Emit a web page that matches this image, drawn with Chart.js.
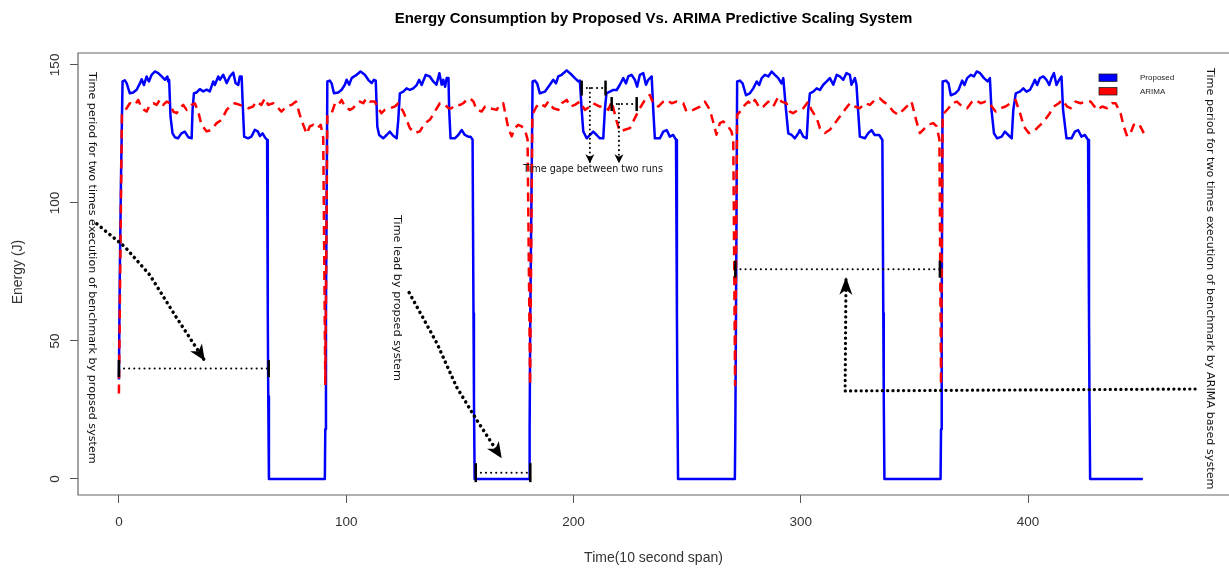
<!DOCTYPE html>
<html>
<head>
<meta charset="utf-8">
<title>Energy Consumption by Proposed Vs. ARIMA Predictive Scaling System</title>
<script src="https://cdn.jsdelivr.net/npm/chart.js@4.4.1/dist/chart.umd.min.js"></script>
<style>
  html, body { margin: 0; padding: 0; background: #fff; }
  #wrap { width: 1229px; height: 568px; }
</style>
</head>
<body>
<div id="wrap"><canvas id="energyChart" width="1229" height="568"></canvas></div>
<script>
// --- Data: time in 10 s steps, energy in J ---

// Proposed system, one row per benchmark cycle
const propTime = [
  0, 0.4, 0.9, 1.6, 2.6, 3.4, 4.8, 6.3, 7.8, 9.3, 10, 11, 12.2, 13.2, 14.4, 15.8, 17.3, 18.8, 20.3, 21.3, 21.7, 22.1, 22.7, 23.6, 24.6, 26, 27.5, 29, 30.5, 32, 32.4, 33, 34.2, 35.6, 37.1, 38.6, 40, 41.5, 42.2, 43.7, 44.4, 45.9, 47.4, 48.8, 50.3, 51.3, 52.5, 53.2, 54, 54.4, 55.1, 56.8, 58.3, 59.8, 61.2, 62, 63.2, 64.2, 65.2, 65.5, 65.7, 66, 90.6, 90.8, 91.1, 91.7,
  92.8, 93.6, 94.6, 96.5, 98, 99.4, 100.2, 101.3, 102.4, 103.4, 104.6, 106.3, 108.2, 109.7, 111.2, 112.2, 113, 113.7, 114.5, 116.3, 117.8, 119.2, 120.7, 122.2, 122.9, 123.6, 125.1, 126.6, 128, 129.5, 131, 132.1, 133.2, 135, 136.8, 138.3, 139.7, 141, 142, 142.7, 143.5, 144.2, 145, 145.3, 145.9, 147.8, 149.3, 150.8, 152.2, 153.7, 154.7, 155.6, 156, 156.2, 156.5, 180.5, 180.7, 181, 182,
  183, 184, 185.2, 187.4, 189.6, 191.1, 192.3, 193.3, 194.8, 197, 199.2, 200.6, 202.1, 202.8, 203.6, 204.3, 205.8, 207.2, 208.7, 210.2, 211.6, 213.1, 213.8, 214.5, 216, 217.5, 219, 220.4, 221.9, 223.1, 224.1, 225.5, 227, 228, 229.2, 230.7, 231.9, 232.9, 234.4, 235.1, 235.8, 238, 239.5, 241, 242.4, 243.9, 245.1, 245.5, 245.7, 246, 271, 271.2, 271.5, 272,
  273.2, 274.4, 275.9, 277.6, 279.1, 280.6, 281.7, 282.8, 284.2, 285.7, 287.2, 288.6, 290.1, 291.5, 292.3, 293.5, 294.5, 296, 297.4, 298.9, 299.6, 301.1, 302.6, 303.3, 304, 305.5, 307, 308.4, 309.9, 311.4, 312.8, 314.3, 315.8, 317.2, 318.7, 320.1, 321.6, 322.3, 323.8, 324.5, 325.2, 326, 328.2, 329.6, 331.1, 332.5, 334.5, 335.9, 336.3, 336.5, 336.8, 361.5, 361.7, 362, 362.4,
  363.9, 365, 366, 368, 369.4, 371, 372, 373.2, 374.8, 376.2, 377.4, 378.9, 380.6, 382.2, 383.2, 383.9, 385, 386.4, 388.4, 389.8, 391.3, 392.8, 393.5, 394.6, 396.4, 397.9, 399.3, 400.8, 402.3, 403, 404, 405.2, 406.7, 408.1, 409.3, 410.3, 411.4, 412.5, 413.7, 414.7, 415.4, 416.9, 419.1, 420.6, 422, 423.5, 425, 426.4, 426.8, 427, 427.3, 450.5
];
const propEnergy = [
  36, 75, 108, 144, 144.4, 143.4, 139.7, 140, 141, 143.4, 144.8, 142.7, 145.8, 144, 146.4, 147.6, 147, 145.8, 144.6, 145.8, 144, 144.6, 131.3, 125.2, 123.8, 123.4, 125.2, 125.8, 123.8, 123.4, 133.7, 139.7, 140, 141.2, 140.4, 141, 140.4, 144, 142.7, 145.8, 144.6, 146.4, 143.4, 145.8, 147.2, 143.4, 142.7, 145.8, 145.8, 137.3, 124, 123.4, 124, 126.5, 125.8, 124.2, 125.2, 123.8, 122.8, 60, 30, 0, 0, 18, 60, 144,
  144.3, 143.3, 139.7, 140, 141, 142.8, 144.6, 142.8, 145.2, 145.8, 146.4, 147.6, 146.4, 144.6, 143.4, 144.6, 144.3, 127.6, 124.6, 123.4, 124.6, 125.8, 124.3, 123.4, 130, 139.7, 140.3, 141.5, 140.9, 141.5, 142.7, 144.6, 142.7, 146.4, 145.8, 144, 142.8, 147, 142.8, 144.6, 142.1, 145.2, 145.2, 133.7, 123.4, 123.4, 124.6, 126.4, 124.6, 124, 124, 122.9, 60, 30, 0, 0, 18, 60, 144,
  144.3, 143.3, 139.7, 140.3, 142.8, 144.6, 143.3, 145.8, 146.4, 148, 146.4, 145.2, 144, 144.3, 133.7, 125.9, 123.4, 124.6, 125.8, 124.6, 123.4, 123.4, 133.7, 139.7, 140.3, 140.9, 140.9, 142.8, 145.2, 143.3, 145.8, 146.4, 144.6, 142.1, 146.4, 147, 142.8, 144.6, 145.8, 133.7, 123.4, 123.4, 125.8, 126.4, 124, 124.6, 122.8, 60, 30, 0, 0, 18, 60, 144,
  144.3, 143.3, 139, 139.7, 141.5, 144, 142.7, 145.2, 146.4, 145.8, 147.6, 146.4, 145.2, 143.3, 145.2, 133.7, 125.2, 124.6, 123.4, 125.2, 126.4, 124, 123.4, 133.7, 139.7, 140.3, 141.5, 140.9, 142.8, 144, 145.2, 142.8, 146.4, 145.8, 144.6, 147, 146.4, 142.8, 145.2, 142.8, 133.7, 124, 123.4, 125.2, 126.4, 124.6, 124.6, 122.8, 60, 30, 0, 0, 18, 60, 144,
  144.3, 143.3, 139, 139.7, 140.9, 144.3, 142.7, 145.2, 146.4, 145.8, 147.6, 147, 145.2, 144, 145.2, 133.7, 125.2, 123.4, 124, 125.8, 124.6, 123.4, 133.7, 139.7, 140.3, 141.5, 140.3, 140.9, 143.3, 144.6, 142.7, 145.2, 145.8, 144.6, 142.7, 145.2, 147, 142.7, 144.6, 145.8, 133.7, 123.4, 123.4, 125.8, 126.4, 124, 124.6, 122.8, 60, 30, 0, 0
];

// ARIMA based system
const arimaTime = [
  0, 1.3, 3.4, 4.8, 7, 8.5, 10, 12.2, 13.6, 15.1, 16.6, 18, 19.5, 21, 22.4, 23.9, 25.4, 26.8, 28.3, 29.8, 32, 33.4, 34.9, 36.3, 38.6, 40.8, 43, 45.2, 47.4, 49.6, 51, 53.2, 55.4, 56.9, 59, 60.5, 62.7, 64.2, 65.7, 67.9, 70.1, 71.5, 73.7, 75.9, 77.9, 79.6, 81.1, 82.6, 84, 85.5, 87.4, 88.8, 89.9, 90.8, 91.7,
  93.6, 95.1, 96.5, 98, 99.4, 101.6, 103, 104.6, 106, 107.5, 108.9, 110.4, 112.6, 114, 115.5, 117, 119.2, 121.4, 122.9, 125.1, 126.6, 128, 130.2, 132.4, 134.6, 136.8, 139, 141.2, 143.5, 145, 146.4, 147.9, 150.1, 151.5, 153, 154.5, 156, 157.4, 159.6, 161.1, 163.3, 166.2, 167.6, 169.1, 171.3, 172.8, 174.2, 175.7, 177.2, 178.6, 179.8, 180.9, 181.9,
  183.7, 185.2, 187.4, 188.9, 191.1, 193.3, 194.8, 197, 198.5, 200.6, 202.8, 205, 207.2, 208.7, 211.6, 213.8, 215.3, 216.8, 219, 220.4, 222.6, 224.8, 227, 229.2, 231.4, 233.6, 235.1, 237.3, 239.5, 241, 243.2, 245.3, 248.3, 249.7, 252.7, 255.6, 257.8, 260, 261.4, 262.9, 264.4, 265.9, 268, 269.5, 270.3, 271.1, 272,
  274, 275.4, 276.9, 278.4, 279.8, 282, 283.5, 285.7, 287.9, 290.1, 291.5, 293.7, 295.2, 296.6, 298.9, 301.1, 303.3, 304.7, 307, 308.4, 310.6, 312.8, 315, 317.2, 319.4, 321.6, 323.8, 326, 328.2, 330.4, 332.6, 334.8, 336.3, 338.5, 340.7, 342.9, 345.1, 347.3, 348.7, 350.9, 352.4, 354.6, 356.1, 358.3, 359.8, 361, 361.7, 362.4,
  365, 366.5, 368.7, 371, 373.2, 375.4, 376.9, 379.1, 381.3, 383.5, 385.7, 387.9, 390.1, 392.3, 394.5, 396.7, 398.1, 400.3, 402.5, 404.7, 406.9, 409.1, 411.3, 413.5, 415, 417.2, 418.7, 420.9, 423.1, 425.3, 427.5, 430.4, 432.6, 434.8, 437, 438.5, 440.7, 442.1, 443.6, 445.1, 446.5, 448, 449.4, 450.9
];
const arimaEnergy = [
  31, 131.9, 134.3, 136.1, 135.5, 137.3, 134.3, 133.1, 135.5, 136.1, 135.5, 137.3, 135.5, 136.7, 136.1, 133.1, 132.5, 134.3, 135.5, 133.7, 135.5, 136.1, 133.1, 128.3, 125.9, 126.5, 128.9, 130.1, 133.7, 135.5, 136.1, 135.5, 134.9, 134.3, 134.9, 136.7, 135.5, 137.9, 135.5, 136.1, 134.3, 133.1, 134.9, 135.5, 136.7, 131.9, 128.3, 125, 127.7, 128.3, 127.1, 128.3, 123.5, 34, 131.9,
  132.5, 136.1, 135.5, 137.3, 134.9, 133.7, 134.3, 136.1, 136.7, 136.1, 137.9, 136.7, 136.7, 134.3, 132.5, 133.7, 134.3, 134.9, 136.1, 133.1, 130.1, 127.1, 125.3, 125.9, 128.9, 130.1, 133.1, 136.1, 135.5, 134.3, 134.3, 135.5, 135.5, 136.1, 137.3, 137.9, 136.7, 133.7, 133.1, 134.9, 134.3, 133.7, 135.5, 136.1, 127.1, 124.1, 127.1, 128.3, 127.7, 126.5, 123, 34, 131.9,
  134.9, 136.1, 134.9, 136.7, 134.3, 133.7, 136.1, 137.3, 134.9, 135.5, 136.7, 133.7, 134.9, 136.1, 134.9, 134.9, 133.7, 136.7, 129.5, 125.9, 126.5, 127.1, 130.7, 134.3, 137.3, 139.1, 136.1, 134.9, 136.7, 137.3, 136.1, 136.7, 136.1, 133.1, 133.7, 134.9, 136.7, 133.7, 129.5, 124.7, 128.9, 129.5, 127.7, 125.9, 122.9, 34, 131.9,
  133.7, 135.5, 136.7, 135.5, 137.3, 134.3, 134.9, 136.7, 134.9, 138.5, 136.7, 136.1, 133.1, 132.5, 133.7, 134.3, 136.7, 133.7, 130.7, 127.1, 125.3, 126.5, 128.9, 131.3, 133.7, 136.1, 134.9, 134.3, 136.1, 135.5, 137.3, 137.9, 136.7, 135.5, 133.1, 131.9, 133.7, 135.5, 136.7, 129.5, 125.3, 127.1, 128.3, 128.9, 127.7, 122.9, 34, 131.9,
  134.3, 136.1, 136.7, 134.9, 134.3, 136.7, 137.3, 136.1, 136.7, 135.5, 133.1, 134.3, 134.9, 136.1, 137.3, 131.9, 127.7, 125.3, 125.9, 127.7, 129.5, 131.9, 134.9, 136.1, 137.3, 134.9, 134.3, 136.7, 136.1, 136.7, 136.7, 133.7, 134.9, 134.3, 136.1, 136.1, 132.5, 127.7, 124.1, 125.3, 128.3, 128.9, 127.7, 125.3
];

const seriesNames = ['Proposed', 'ARIMA'];
const xTicks = [0, 100, 200, 300, 400];
const yTicks = [0, 50, 100, 150];

// --- Annotation guides, in data units [time, energy] ---
const proposedSpan = [[0, 40], [65.9, 40]];
const leadSpan = [[157, 2.3], [181, 2.3]];
const arimaSpan = [[271.2, 76], [361.2, 76]];
const gapSpanA = [[203.6, 141.6], [214.1, 141.6]];
const gapSpanB = [[216.8, 135.8], [227.8, 135.8]];
const gapArrowA = [[207.2, 141.6], [207.2, 114.4]];
const gapArrowB = [[220, 135.8], [220, 114.4]];
const leftArrow = [[-9.7, 92.4], [2.6, 84.1], [13.6, 73.9], [24.6, 59.4], [37.8, 42.8]];
const midArrow = [[127.7, 67.5], [139.9, 49.2], [148.5, 33.4], [157.4, 21.4], [168.4, 7.5]];
const rightArrow = [[473.5, 32.6], [319.5, 31.9], [319.9, 73.2]];

const sans = '"Liberation Sans", Arial, sans-serif';
const noteFont = '"DejaVu Sans", Verdana, sans-serif';

function pts(xs, ys) {
  return xs.map((v, i) => ({ x: v, y: ys[i] }));
}

function dotted(ctx, line, X, Y, size, gap) {
  ctx.save();
  ctx.lineWidth = size;
  ctx.lineCap = 'round';
  ctx.setLineDash([0.1, gap]);
  ctx.strokeStyle = '#000';
  ctx.beginPath();
  line.forEach((p, i) => i ? ctx.lineTo(X(p[0]), Y(p[1])) : ctx.moveTo(X(p[0]), Y(p[1])));
  ctx.stroke();
  ctx.restore();
}

function arrowHead(ctx, line, X, Y, len, half) {
  const a = line[line.length - 2], b = line[line.length - 1];
  const x1 = X(b[0]), y1 = Y(b[1]);
  const ang = Math.atan2(y1 - Y(a[1]), x1 - X(a[0]));
  ctx.save();
  ctx.translate(x1, y1);
  ctx.rotate(ang);
  ctx.fillStyle = '#000';
  ctx.beginPath();
  ctx.moveTo(0, 0);
  ctx.lineTo(-len, -half);
  ctx.lineTo(-len * 0.72, 0);
  ctx.lineTo(-len, half);
  ctx.closePath();
  ctx.fill();
  ctx.restore();
}

function bracket(ctx, span, X, Y, tick) {
  dotted(ctx, span, X, Y, 2, 5);
  ctx.save();
  ctx.strokeStyle = '#000';
  ctx.lineWidth = 2.5;
  span.forEach(p => {
    ctx.beginPath();
    ctx.moveTo(X(p[0]), Y(p[1]) - tick);
    ctx.lineTo(X(p[0]), Y(p[1]) + tick);
    ctx.stroke();
  });
  ctx.restore();
}

// rotated text reading top to bottom, sized to the given length
function sideText(ctx, str, cx, top, length) {
  ctx.save();
  ctx.font = '10px ' + noteFont;
  const size = 10 * length / ctx.measureText(str).width;
  ctx.font = size.toFixed(2) + 'px ' + noteFont;
  ctx.translate(cx, top);
  ctx.rotate(Math.PI / 2);
  ctx.fillStyle = '#111';
  ctx.textAlign = 'left';
  ctx.textBaseline = 'middle';
  ctx.fillText(str, 0, 0);
  ctx.restore();
}

const notesPlugin = {
  id: 'notes',
  afterDraw(chart) {
    const { ctx, chartArea: a, scales: { x, y } } = chart;
    const X = v => x.getPixelForValue(v);
    const Y = v => y.getPixelForValue(v);
    ctx.save();

    // plot frame (right side falls outside the picture)
    ctx.strokeStyle = '#666';
    ctx.lineWidth = 1.2;
    ctx.beginPath();
    ctx.moveTo(a.right + 2, a.top);
    ctx.lineTo(a.left, a.top);
    ctx.lineTo(a.left, a.bottom);
    ctx.lineTo(a.right + 2, a.bottom);
    ctx.stroke();

    // y tick labels, rotated like R's default
    ctx.fillStyle = '#333';
    ctx.font = '13.5px ' + sans;
    ctx.textAlign = 'center';
    ctx.textBaseline = 'middle';
    y.ticks.forEach(t => {
      ctx.save();
      ctx.translate(a.left - 23, Y(t.value));
      ctx.rotate(-Math.PI / 2);
      ctx.fillText(String(t.value), 0, 0);
      ctx.restore();
    });

    // axis titles
    ctx.font = '14px ' + sans;
    ctx.fillText('Time(10 second span)', (a.left + a.right) / 2, 558);
    ctx.save();
    ctx.translate(18, 272);
    ctx.rotate(-Math.PI / 2);
    ctx.fillText('Energy (J)', 0, 0);
    ctx.restore();

    // main title
    ctx.fillStyle = '#000';
    ctx.font = 'bold 15px ' + sans;
    ctx.fillText('Energy Consumption by Proposed Vs. ARIMA Predictive Scaling System', (a.left + a.right) / 2, 19);

    // legend
    const colors = chart.data.datasets.map(d => d.borderColor);
    ctx.font = '8px ' + sans;
    ctx.textAlign = 'left';
    seriesNames.forEach((name, i) => {
      const ly = 74 + i * 13.5;
      ctx.fillStyle = colors[i];
      ctx.fillRect(1099, ly, 18, 7.5);
      ctx.strokeStyle = '#222';
      ctx.lineWidth = 0.8;
      ctx.strokeRect(1099, ly, 18, 7.5);
      ctx.fillStyle = '#222';
      ctx.fillText(name, 1140, ly + 4);
    });

    // brackets and arrows
    bracket(ctx, proposedSpan, X, Y, 8.5);
    bracket(ctx, leadSpan, X, Y, 9.5);
    bracket(ctx, arimaSpan, X, Y, 8.5);
    bracket(ctx, gapSpanA, X, Y, 7.5);
    bracket(ctx, gapSpanB, X, Y, 7);

    dotted(ctx, leftArrow, X, Y, 3.5, 5.5);
    arrowHead(ctx, leftArrow, X, Y, 16, 7);
    dotted(ctx, midArrow, X, Y, 3.5, 5.5);
    arrowHead(ctx, midArrow, X, Y, 16, 7);
    dotted(ctx, rightArrow, X, Y, 3.2, 5.2);
    arrowHead(ctx, rightArrow, X, Y, 18, 6.5);
    dotted(ctx, gapArrowA, X, Y, 2, 4.5);
    arrowHead(ctx, gapArrowA, X, Y, 9, 4.5);
    dotted(ctx, gapArrowB, X, Y, 2, 4.5);
    arrowHead(ctx, gapArrowB, X, Y, 9, 4.5);

    // notes
    sideText(ctx, 'Time period for two times execution of benchmark by propsed system', X(-11.8), 72, 392);
    sideText(ctx, 'Time lead by propsed system', X(122.3), 215, 166);
    sideText(ctx, 'Time period for two times execution of benchmark by ARIMA based system', X(480.1), 68, 422);

    ctx.font = '10px ' + noteFont;
    const gapText = 'Time gape between two runs';
    ctx.font = (10 * 140 / ctx.measureText(gapText).width).toFixed(2) + 'px ' + noteFont;
    ctx.fillStyle = '#111';
    ctx.textAlign = 'center';
    ctx.fillText(gapText, X(208.6), Y(112));

    ctx.restore();
  }
};

new Chart(document.getElementById('energyChart'), {
  type: 'scatter',
  data: {
    datasets: [
      {
        label: seriesNames[0],
        data: pts(propTime, propEnergy),
        showLine: true,
        borderColor: '#0000ff',
        backgroundColor: '#0000ff',
        borderWidth: 2.5,
        borderJoinStyle: 'round',
        pointRadius: 0,
        order: 1
      },
      {
        label: seriesNames[1],
        data: pts(arimaTime, arimaEnergy),
        showLine: true,
        borderColor: '#ff0000',
        backgroundColor: '#ff0000',
        borderWidth: 2.5,
        borderDash: [9, 6],
        borderJoinStyle: 'round',
        pointRadius: 0,
        order: 0
      }
    ]
  },
  options: {
    responsive: false,
    animation: false,
    devicePixelRatio: 1,
    layout: { padding: { top: 53, left: 0, right: 0, bottom: 0 } },
    plugins: {
      legend: { display: false },
      title: { display: false },
      tooltip: { enabled: false }
    },
    scales: {
      x: {
        type: 'linear',
        min: -18,
        max: 488.4,
        afterBuildTicks: s => { s.ticks = xTicks.map(v => ({ value: v })); },
        afterFit: s => { s.height = 73; },
        grid: { drawOnChartArea: false, drawTicks: true, tickLength: 8, color: '#555' },
        border: { display: false },
        ticks: { color: '#333', font: { family: sans, size: 13.5 }, padding: 11, maxRotation: 0, autoSkip: false }
      },
      y: {
        type: 'linear',
        min: -5.8,
        max: 154.3,
        afterBuildTicks: s => { s.ticks = yTicks.map(v => ({ value: v })); },
        afterFit: s => { s.width = 78; },
        grid: { drawOnChartArea: false, drawTicks: true, tickLength: 8, color: '#555' },
        border: { display: false },
        ticks: { display: false }
      }
    }
  },
  plugins: [notesPlugin]
});
</script>
</body>
</html>
